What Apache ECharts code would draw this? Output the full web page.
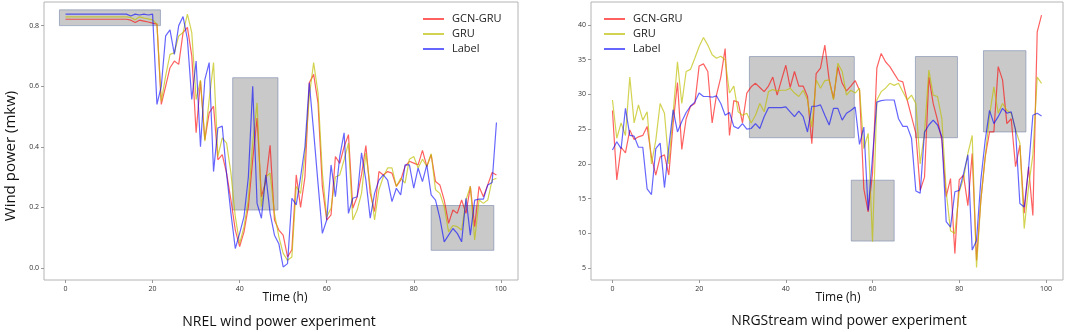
<!DOCTYPE html>
<html>
<head>
<meta charset="utf-8">
<script src="https://cdn.jsdelivr.net/npm/echarts@6.0.0/dist/echarts.min.js"></script>
<style>
  html, body { margin: 0; padding: 0; background: #fff; }
  #chart { width: 1065px; height: 332px; }
</style>
</head>
<body>
<div id="chart"></div>
<script>
// x positions (hours)
const hours = [
  0, 1, 2, 3, 4, 5, 6, 7, 8, 9, 10, 11, 12, 13, 14, 15, 16, 17, 18, 19,
  20, 21, 22, 23, 24, 25, 26, 27, 28, 29, 30, 31, 32, 33, 34, 35, 36, 37, 38, 39,
  40, 41, 42, 43, 44, 45, 46, 47, 48, 49, 50, 51, 52, 53, 54, 55, 56, 57, 58, 59,
  60, 61, 62, 63, 64, 65, 66, 67, 68, 69, 70, 71, 72, 73, 74, 75, 76, 77, 78, 79,
  80, 81, 82, 83, 84, 85, 86, 87, 88, 89, 90, 91, 92, 93, 94, 95, 96, 97, 98, 99
];
const seriesNames = ["GCN-GRU", "GRU", "Label"];

// NREL (left)
const nrelGcnGru = [
  0.821, 0.821, 0.821, 0.821, 0.821, 0.821, 0.821, 0.821, 0.821, 0.821,
  0.821, 0.821, 0.821, 0.821, 0.821, 0.818, 0.810, 0.818, 0.815, 0.812,
  0.808, 0.805, 0.540, 0.600, 0.661, 0.683, 0.672, 0.777, 0.794, 0.700,
  0.446, 0.617, 0.423, 0.512, 0.534, 0.357, 0.374, 0.313, 0.224, 0.125,
  0.070, 0.119, 0.202, 0.357, 0.495, 0.235, 0.285, 0.405, 0.158, 0.125,
  0.108, 0.036, 0.060, 0.307, 0.200, 0.300, 0.611, 0.639, 0.545, 0.269,
  0.158, 0.175, 0.368, 0.345, 0.400, 0.440, 0.197, 0.235, 0.307, 0.404,
  0.246, 0.186, 0.318, 0.307, 0.318, 0.313, 0.269, 0.290, 0.335, 0.352,
  0.346, 0.340, 0.388, 0.335, 0.374, 0.285, 0.274, 0.224, 0.147, 0.191,
  0.180, 0.224, 0.180, 0.269, 0.136, 0.269, 0.235, 0.274, 0.315, 0.307
];
const nrelGru = [
  0.829, 0.829, 0.829, 0.829, 0.829, 0.829, 0.829, 0.829, 0.829, 0.829,
  0.829, 0.829, 0.829, 0.829, 0.829, 0.827, 0.819, 0.829, 0.825, 0.822,
  0.819, 0.805, 0.550, 0.634, 0.705, 0.710, 0.766, 0.777, 0.838, 0.777,
  0.556, 0.620, 0.418, 0.556, 0.678, 0.368, 0.429, 0.412, 0.313, 0.169,
  0.080, 0.136, 0.224, 0.412, 0.545, 0.202, 0.300, 0.313, 0.180, 0.103,
  0.048, 0.025, 0.036, 0.269, 0.246, 0.374, 0.567, 0.678, 0.578, 0.313,
  0.169, 0.197, 0.300, 0.307, 0.357, 0.412, 0.158, 0.191, 0.246, 0.379,
  0.269, 0.158, 0.258, 0.300, 0.330, 0.330, 0.269, 0.296, 0.280, 0.359,
  0.368, 0.330, 0.359, 0.335, 0.377, 0.258, 0.246, 0.202, 0.119, 0.140,
  0.136, 0.125, 0.224, 0.269, 0.092, 0.224, 0.213, 0.224, 0.290, 0.296
];
const nrelLabel = [
  0.838, 0.838, 0.838, 0.838, 0.838, 0.838, 0.838, 0.838, 0.838, 0.838,
  0.838, 0.838, 0.838, 0.838, 0.838, 0.832, 0.838, 0.835, 0.838, 0.835,
  0.838, 0.540, 0.600, 0.766, 0.786, 0.705, 0.800, 0.830, 0.755, 0.556,
  0.683, 0.400, 0.622, 0.678, 0.318, 0.462, 0.468, 0.310, 0.180, 0.064,
  0.114, 0.169, 0.300, 0.600, 0.213, 0.164, 0.307, 0.180, 0.108, 0.080,
  0.003, 0.014, 0.230, 0.208, 0.300, 0.400, 0.611, 0.450, 0.280, 0.114,
  0.158, 0.340, 0.235, 0.368, 0.446, 0.180, 0.230, 0.235, 0.380, 0.290,
  0.164, 0.246, 0.290, 0.307, 0.290, 0.219, 0.263, 0.241, 0.340, 0.340,
  0.263, 0.330, 0.285, 0.340, 0.241, 0.224, 0.164, 0.086, 0.108, 0.130,
  0.114, 0.086, 0.230, 0.108, 0.224, 0.227, 0.227, 0.274, 0.282, 0.480
];
// shaded boxes: [x0, y0, x1, y1]
const nrelBoxes = [
  [-1.4, 0.800, 21.8, 0.852],
  [38.4, 0.191, 48.8, 0.628],
  [84.0, 0.058, 98.4, 0.206]
];

// NRGStream (right)
const nrgGcnGru = [
  27.7, 17.7, 22.4, 21.6, 24.9, 23.5, 23.9, 24.1, 25.4, 21.0,
  18.4, 21.0, 21.3, 18.4, 25.8, 31.7, 22.1, 26.5, 28.3, 28.7,
  34.1, 34.4, 33.3, 25.9, 29.9, 32.5, 36.6, 24.1, 29.1, 28.9,
  25.9, 30.2, 31.1, 31.6, 31.0, 30.4, 31.2, 32.5, 29.9, 32.1,
  34.2, 31.0, 33.3, 31.2, 31.2, 29.7, 22.9, 33.0, 33.8, 37.1,
  32.1, 29.4, 34.0, 31.6, 30.5, 31.2, 32.0, 30.6, 16.4, 13.1,
  18.6, 33.8, 35.9, 34.7, 34.0, 33.0, 32.0, 31.8, 29.2, 26.8,
  24.4, 16.2, 18.1, 32.5, 28.7, 26.3, 23.4, 15.3, 17.9, 7.1,
  17.7, 18.4, 14.0, 21.5, 6.1, 14.8, 21.0, 24.6, 24.6, 34.0,
  32.1, 25.8, 26.5, 19.6, 22.7, 12.9, 19.6, 12.6, 39.0, 41.4
];
const nrgGru = [
  29.2, 23.7, 25.9, 24.1, 32.5, 25.9, 28.5, 26.3, 27.5, 20.0,
  23.4, 28.7, 27.3, 20.0, 27.3, 34.7, 28.7, 33.3, 33.6, 35.2,
  36.9, 38.2, 37.1, 35.7, 35.2, 35.5, 35.0, 30.2, 31.2, 27.5,
  27.0, 27.3, 25.9, 27.0, 28.7, 27.5, 30.4, 30.7, 30.5, 30.6,
  30.6, 30.9, 30.2, 29.7, 30.6, 29.2, 25.3, 32.1, 30.9, 32.0,
  32.1, 29.2, 34.5, 33.3, 29.9, 30.6, 30.2, 30.9, 22.2, 24.4,
  8.8, 29.2, 30.4, 30.9, 31.6, 31.3, 31.6, 30.4, 29.2, 29.9,
  28.7, 20.0, 24.5, 33.5, 29.9, 29.7, 26.5, 16.0, 10.4, 10.0,
  16.0, 17.9, 21.5, 24.1, 5.1, 14.8, 21.0, 27.0, 31.1, 27.3,
  28.7, 27.7, 27.3, 24.9, 23.0, 10.7, 16.7, 21.3, 32.5, 31.6
];
const nrgLabel = [
  22.0, 23.2, 22.2, 28.0, 24.1, 24.0, 22.4, 22.4, 16.4, 15.6,
  22.2, 23.0, 16.6, 22.4, 27.8, 24.6, 26.1, 27.4, 28.3, 28.9,
  30.2, 29.7, 29.7, 29.6, 29.8, 28.7, 27.0, 27.4, 25.4, 25.1,
  25.8, 25.0, 25.1, 25.8, 25.1, 26.8, 28.1, 28.1, 28.1, 28.1,
  28.2, 27.5, 26.8, 27.6, 26.8, 24.6, 28.3, 28.3, 28.5, 27.0,
  25.6, 28.0, 28.0, 26.3, 27.3, 27.7, 28.2, 22.8, 25.3, 13.3,
  21.0, 28.9, 29.1, 29.2, 29.2, 29.2, 26.5, 25.4, 25.4, 23.7,
  16.1, 15.8, 24.6, 25.6, 26.3, 25.6, 23.9, 11.7, 10.9, 16.0,
  16.2, 18.6, 21.3, 7.6, 9.0, 17.7, 23.4, 27.7, 25.8, 26.8,
  28.0, 27.3, 27.5, 24.9, 14.3, 13.8, 19.3, 27.0, 27.3, 26.9
];
const nrgBoxes = [
  [31.6, 23.77, 55.8, 35.45],
  [69.9, 23.77, 79.6, 35.45],
  [85.6, 24.6, 95.4, 36.3],
  [55.1, 8.9, 65.0, 17.66]
];

const xTicks = [0, 20, 40, 60, 80, 100];
const nrelYTicks = [0.0, 0.2, 0.4, 0.6, 0.8];
const nrgYTicks = [5, 10, 15, 20, 25, 30, 35, 40];

const colors = ["rgba(255,0,0,0.62)", "rgba(190,190,0,0.68)", "rgba(0,0,255,0.6)"];
const font = "'Open Sans', 'DejaVu Sans', sans-serif";

const chart = echarts.init(document.getElementById("chart"));

function pairs(arr) {
  return hours.map((h, i) => [h, arr[i]]);
}

function lineSeries(name, arr, idx, color) {
  return {
    name: name,
    type: "line",
    xAxisIndex: idx,
    yAxisIndex: idx,
    data: pairs(arr),
    symbol: "none",
    z: 2,
    itemStyle: { color: color },
    lineStyle: { color: color, width: 1.2 },
    animation: false,
  };
}

function boxSeries(boxes, idx) {
  return {
    name: "box" + idx,
    type: "line",
    xAxisIndex: idx,
    yAxisIndex: idx,
    data: [],
    silent: true,
    z: 3,
    markArea: {
      silent: true,
      itemStyle: {
        color: "rgba(140,140,140,0.47)",
        borderColor: "rgba(110,125,165,0.55)",
        borderWidth: 1,
      },
      data: boxes.map((b) => [{ coord: [b[0], b[1]] }, { coord: [b[2], b[3]] }]),
    },
  };
}

function xAxis(idx) {
  return {
    type: "value",
    gridIndex: idx,
    min: -4.95,
    max: 103.95,
    axisLine: { show: false, onZero: false },
    splitLine: { show: false },
    axisTick: { show: true, length: 3, customValues: xTicks, lineStyle: { color: "#999" } },
    axisLabel: { customValues: xTicks, fontSize: 7, color: "#333", margin: 5, fontFamily: font },
  };
}

function yAxis(idx, min, max, ticks, fmt) {
  return {
    type: "value",
    gridIndex: idx,
    min: min,
    max: max,
    axisLine: { show: false, onZero: false },
    splitLine: { show: false },
    axisTick: { show: true, length: 3, customValues: ticks, lineStyle: { color: "#999" } },
    axisLabel: { customValues: ticks, fontSize: 7, color: "#333", margin: 5, fontFamily: font, formatter: fmt },
  };
}

const legendBase = {
  orient: "vertical",
  data: seriesNames,
  icon: "rect",
  itemWidth: 21,
  itemHeight: 2,
  itemGap: 1,
  textStyle: { fontSize: 11, fontFamily: font, color: "#222", lineHeight: 14, padding: [0, 0, 0, 3] },
};

const option = {
  animation: false,
  grid: [
    { left: 44, top: 2, width: 474, height: 278, show: true, borderColor: "#b4b4b4", borderWidth: 1, backgroundColor: "transparent" },
    { left: 591, top: 2, width: 472, height: 278, show: true, borderColor: "#b4b4b4", borderWidth: 1, backgroundColor: "transparent" },
  ],
  xAxis: [xAxis(0), xAxis(1)],
  yAxis: [
    yAxis(0, -0.04, 0.878, nrelYTicks, (v) => v.toFixed(1)),
    yAxis(1, 3.3, 43.3, nrgYTicks, (v) => String(v)),
  ],
  legend: [
    Object.assign({}, legendBase, { left: 418, top: 7 }),
    Object.assign({}, legendBase, { left: 599, top: 7 }),
  ],
  graphic: [
    {
      type: "text", x: 11, y: 156, rotation: Math.PI / 2,
      style: { text: "Wind power (mkw)", font: "15px " + font, fill: "#111", align: "center", verticalAlign: "middle" },
    },
    {
      type: "text", x: 285, y: 298,
      style: { text: "Time (h)", font: "12px " + font, fill: "#111", align: "center", verticalAlign: "middle" },
    },
    {
      type: "text", x: 838, y: 298,
      style: { text: "Time (h)", font: "12px " + font, fill: "#111", align: "center", verticalAlign: "middle" },
    },
    {
      type: "text", x: 279, y: 322,
      style: { text: "NREL wind power experiment", font: "14px " + font, fill: "#111", align: "center", verticalAlign: "middle" },
    },
    {
      type: "text", x: 849, y: 321,
      style: { text: "NRGStream wind power experiment", font: "14px " + font, fill: "#111", align: "center", verticalAlign: "middle" },
    },
  ],
  series: [
    lineSeries("GCN-GRU", nrelGcnGru, 0, colors[0]),
    lineSeries("GRU", nrelGru, 0, colors[1]),
    lineSeries("Label", nrelLabel, 0, colors[2]),
    boxSeries(nrelBoxes, 0),
    lineSeries("GCN-GRU", nrgGcnGru, 1, colors[0]),
    lineSeries("GRU", nrgGru, 1, colors[1]),
    lineSeries("Label", nrgLabel, 1, colors[2]),
    boxSeries(nrgBoxes, 1),
  ],
};

chart.setOption(option);
</script>
</body>
</html>
